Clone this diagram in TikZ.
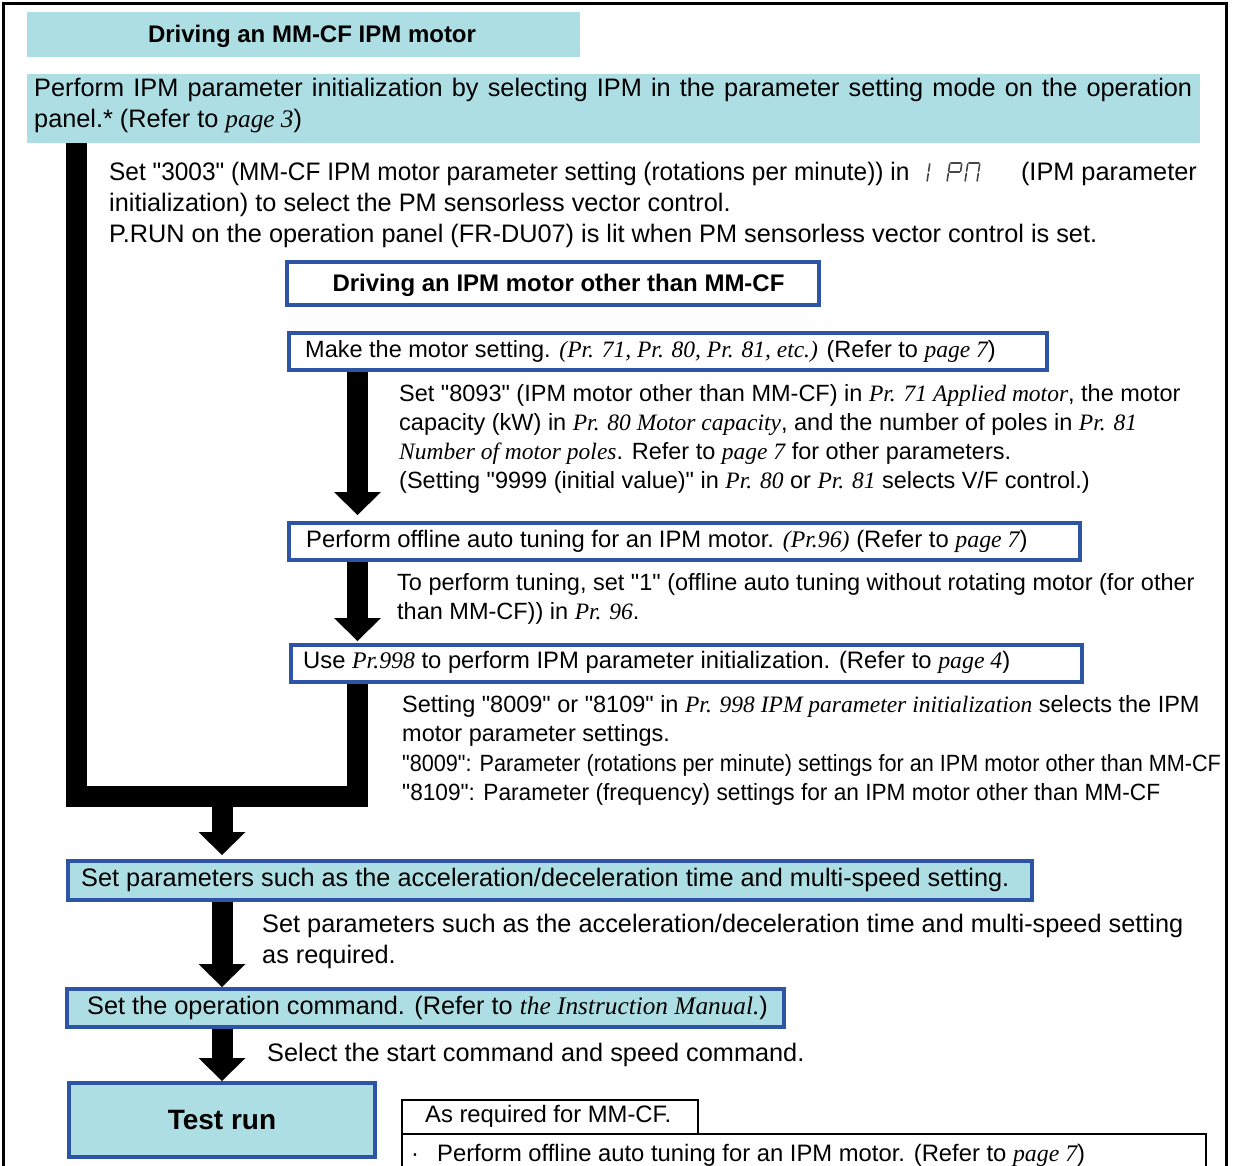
\documentclass[tikz,border=0pt]{standalone}
\usepackage{fontspec}
\newfontfamily\arial{Liberation Sans}
\newfontfamily\tmsfont{Liberation Serif}
\usetikzlibrary{arrows.meta}
\definecolor{boxcyan}{RGB}{173,222,227}
\definecolor{boxblue}{RGB}{46,85,165}
\definecolor{segcol}{RGB}{70,70,70}
\newcommand\ti[1]{{\tmsfont\itshape #1}}
\newcommand\sg[5]{\draw[segline] ({#1+#2+0.15*#3},{182-#3}) -- ({#1+#4+0.15*#5},{182-#5});}
\begin{document}
\begin{tikzpicture}[x=1pt, y=-1pt,
  fillbox/.style={fill=boxcyan, draw=none, outer sep=0pt, inner sep=0pt, anchor=north west},
  bluebox/.style={draw=boxblue, line width=4pt, inner sep=0pt, anchor=north west},
  cell/.style={draw=black, line width=1.5pt, inner sep=0pt, anchor=north west},
  txt/.style={anchor=base west, inner sep=0pt, font=\arial\fontsize{25.3}{31}\selectfont},
  txs/.style={anchor=base west, inner sep=0pt, font=\arial\fontsize{23.5}{29}\selectfont},
  txm/.style={anchor=base west, inner sep=0pt, font=\arial\fontsize{23.8}{29}\selectfont},
  ttl/.style={anchor=base, inner sep=0pt, font=\arial\fontsize{24}{29}\selectfont\bfseries},
  ubar/.style={line width=21pt, line join=miter},
  bigarrow/.style={line width=21pt, -{Triangle[width=47pt,length=23pt,line width=0pt]}},
  segline/.style={segcol, line width=1.6pt, line cap=round}]
\useasboundingbox (0,0) rectangle (1234,1166);
\clip (0,0) rectangle (1234,1166);
\draw[line width=3pt] (3.5,3.5) rectangle (1226,1190);

% boxes
\node[fillbox, minimum width=553pt, minimum height=45pt] (hdr) at (27,12) {};
\node[fillbox, minimum width=1173pt, minimum height=69pt] (init) at (27,74) {};
\node[bluebox, fill=white, minimum width=532pt, minimum height=43pt] (ipmhdr) at (285,260) {};
\node[bluebox, fill=white, minimum width=758pt, minimum height=37pt] (motor) at (287,331) {};
\node[bluebox, fill=white, minimum width=791pt, minimum height=37pt] (tune) at (287,521) {};
\node[bluebox, fill=white, minimum width=791pt, minimum height=37pt] (use) at (289,643) {};
\node[bluebox, fill=boxcyan, minimum width=964pt, minimum height=39pt] (setp) at (66,859) {};
\node[bluebox, fill=boxcyan, minimum width=717pt, minimum height=38pt] (opcmd) at (65,987) {};
\node[bluebox, fill=boxcyan, minimum width=306pt, minimum height=74pt] (test) at (67,1081) {};
\node[cell, minimum width=296pt, minimum height=34pt] (c1) at (401,1099) {};
\node[cell, minimum width=804pt, minimum height=50pt] (c2) at (401,1133) {};

% connectors
\coordinate (ubl) at (76.5,796.5);
\coordinate (ubr) at (357.5,796.5);
\coordinate (merge) at (222,796.5);
\draw[ubar] (init.south -| ubl) -- (ubl) -- (ubr) -- (use.south -| ubr);
\draw[bigarrow, shorten >=6pt] (motor.south -| ubr) -- (tune.north -| ubr);
\draw[bigarrow, shorten >=2pt] (tune.south -| ubr) -- (use.north -| ubr);
\draw[bigarrow, shorten >=4pt] (merge) -- (setp.north -| merge);
\draw[bigarrow] (setp.south -| merge) -- (opcmd.north -| merge);
\draw[bigarrow] (opcmd.south -| merge) -- (test.north -| merge);

% texts
\node[ttl] (thdr) at (312,43) {Driving an MM-CF IPM motor};
\node[txt] (ti1) at (34,97) {\makebox[1158pt][s]{Perform IPM parameter initialization by selecting IPM in the parameter setting mode on the operation}};
\node[txt] (ti2) at (34,128) {panel.* (Refer to \ti{page 3})};
\node[txt] (a1) at (109,181) {\scalebox{0.965}[1]{Set "3003" (MM-CF IPM motor parameter setting (rotations per minute)) in}};
\node[txt, anchor=base east] (a1b) at (1197,181) {(IPM parameter};
\node[txt] (a2) at (109,212) {initialization) to select the PM sensorless vector control.};
\node[txt] (a3) at (109,243) {P.RUN on the operation panel (FR-DU07) is lit when PM sensorless vector control is set.};
% seven segment "IPM"
\sg{925}{2}{10.8}{2}{18.2}
\sg{925}{2}{1}{2}{8.4}
\sg{947}{1}{19}{11}{19}
\sg{947}{0}{10.8}{0}{18}
\sg{947}{12}{10.8}{12}{18}
\sg{947}{1}{9.7}{11}{9.7}
\sg{947}{0}{1}{0}{8.6}
\sg{965}{1}{19}{11}{19}
\sg{965}{0}{10.8}{0}{18}
\sg{965}{0}{1}{0}{8.6}
\sg{965}{12}{10.8}{12}{18}
\sg{965}{12}{1}{12}{8.6}

\node[ttl] (tipm) at (558.5,292) {Driving an IPM motor other than MM-CF};
\node[txs] (tm) at (305,357) {Make the motor setting. \ti{(Pr. 71, Pr. 80, Pr. 81, etc.)} (Refer to \ti{page 7})};
\node[txs] (b1) at (399,401) {Set "8093" (IPM motor other than MM-CF) in \ti{Pr. 71 Applied motor}, the motor};
\node[txs] (b2) at (399,430) {capacity (kW) in \ti{Pr. 80 Motor capacity}, and the number of poles in \ti{Pr. 81}};
\node[txs] (b3) at (399,459) {\ti{Number of motor poles}. Refer to \ti{page 7} for other parameters.};
\node[txs] (b4) at (399,488) {(Setting "9999 (initial value)" in \ti{Pr. 80} or \ti{Pr. 81} selects V/F control.)};
\node[txm] (tt) at (306,547) {Perform offline auto tuning for an IPM motor. \ti{(Pr.96)} (Refer to \ti{page 7})};
\node[txs] (c31) at (397,590) {To perform tuning, set "1" (offline auto tuning without rotating motor (for other};
\node[txs] (c32) at (397,619) {than MM-CF)) in \ti{Pr. 96}.};
\node[txm] (tu) at (303,668) {Use \ti{Pr.998} to perform IPM parameter initialization. (Refer to \ti{page 4})};
\node[txs] (d1) at (402,712) {Setting "8009" or "8109" in \ti{Pr. 998 IPM parameter initialization} selects the IPM};
\node[txs] (d2) at (402,741) {motor parameter settings.};
\node[txs] (d3) at (402,771) {\scalebox{0.92}[1]{"8009": Parameter (rotations per minute) settings for an IPM motor other than MM-CF}};
\node[txs] (d4) at (402,800) {\scalebox{0.965}[1]{"8109": Parameter (frequency) settings for an IPM motor other than MM-CF}};
\node[txt] (ts) at (81,886) {Set parameters such as the acceleration/deceleration time and multi-speed setting.};
\node[txt] (e1) at (262,932) {Set parameters such as the acceleration/deceleration time and multi-speed setting};
\node[txt] (e2) at (262,963) {as required.};
\node[txt] (to) at (87,1014) {Set the operation command. (Refer to \ti{the Instruction Manual.})};
\node[txt] (f1) at (267,1061) {Select the start command and speed command.};
\node[anchor=base, inner sep=0pt, font=\arial\fontsize{28}{32}\selectfont\bfseries] (ttest) at (222,1129) {Test run};
\node[txm] (g1) at (425,1122) {As required for MM-CF.};
\node[txm] (g2) at (411,1161) {·};
\node[txm] (g3) at (437,1161) {Perform offline auto tuning for an IPM motor. (Refer to \ti{page 7})};
\end{tikzpicture}
\end{document}
